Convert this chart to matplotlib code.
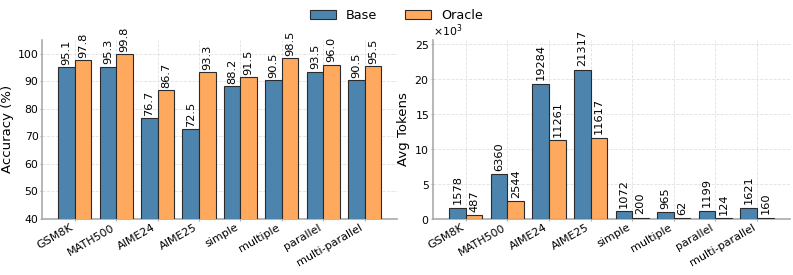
import numpy as np
import matplotlib
matplotlib.use("Agg")
import matplotlib.pyplot as plt

CATEGORIES = ["GSM8K", "MATH500", "AIME24", "AIME25", "simple", "multiple", "parallel", "multi-parallel"]
ACC_BASE = [95.1, 95.3, 76.7, 72.5, 88.2, 90.5, 93.5, 90.5]
ACC_ORACLE = [97.8, 99.8, 86.7, 93.3, 91.5, 98.5, 96.0, 95.5]
TOK_BASE = [1578, 6360, 19284, 21317, 1072, 965, 1199, 1621]
TOK_ORACLE = [487, 2544, 11261, 11617, 200, 62, 124, 160]

C_BASE = "#4c84ae"
C_ORACLE = "#ffa95f"
W = 0.4

fig = plt.figure(figsize=(7.93, 2.75), dpi=100)
ax1 = fig.add_axes([0.053, 0.204, 0.448, 0.651])
ax2 = fig.add_axes([0.546, 0.204, 0.450, 0.651])

x = np.arange(len(CATEGORIES))


def draw(ax, base, oracle, fmt, offset):
    b1 = ax.bar(x - W/2, base, W, color=C_BASE, edgecolor="#2b2b2b", linewidth=0.8, label="Base", zorder=3)
    b2 = ax.bar(x + W/2, oracle, W, color=C_ORACLE, edgecolor="#2b2b2b", linewidth=0.8, label="Oracle", zorder=3)
    for bars, vals in ((b1, base), (b2, oracle)):
        for r, v in zip(bars, vals):
            ax.text(r.get_x() + r.get_width()/2, r.get_height() + offset, fmt(v),
                    rotation=90, ha="center", va="bottom", fontsize=8.2)
    ax.set_xticks(x)
    ax.set_xticklabels(CATEGORIES, rotation=30, ha="right", fontsize=8)
    ax.tick_params(axis="y", labelsize=7.8, color="#aaaaaa", length=1.5, pad=1)
    ax.tick_params(axis="x", color="#aaaaaa", length=1.5, pad=1)
    ax.grid(True, ls="--", lw=0.6, color="#e0e0e0", zorder=0)
    ax.set_axisbelow(True)
    for s in ["top", "right"]:
        ax.spines[s].set_visible(False)
    for s in ["left", "bottom"]:
        ax.spines[s].set_color("#aaaaaa")
        ax.spines[s].set_linewidth(1.2)
    return b1, b2


b1, b2 = draw(ax1, ACC_BASE, ACC_ORACLE, lambda v: f"{v:.1f}", 0.8)
ax1.set_ylim(40, 105)
ax1.set_yticks(range(40, 101, 10))
ax1.set_ylabel("Accuracy (%)", fontsize=9.5, labelpad=3)

draw(ax2, TOK_BASE, TOK_ORACLE, lambda v: f"{v}", 500)
ax2.set_ylim(0, max(TOK_BASE) * 1.2)
ax2.set_yticks(range(0, 25001, 5000))
ax2.ticklabel_format(axis="y", style="sci", scilimits=(3, 3), useMathText=True)
ax2.yaxis.get_offset_text().set_fontsize(7.8)
ax2.set_ylabel("Avg Tokens", fontsize=9.5, labelpad=3)

fig.legend(handles=[b1, b2], labels=["Base", "Oracle"], loc="upper center",
           bbox_to_anchor=(0.5, 1.01), ncol=2, frameon=False, fontsize=9.2,
           handlelength=2.0, columnspacing=2.2)

fig.savefig("out.png", dpi=100)
